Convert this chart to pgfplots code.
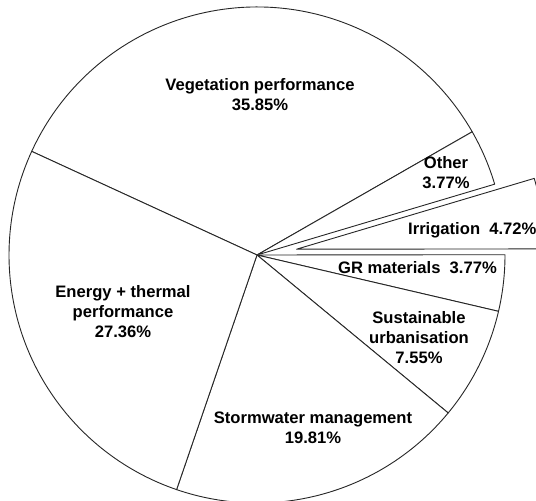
\documentclass[border=0pt]{standalone}
\usepackage{pgfplots}
\usepackage{pgfplotstable}
\pgfplotsset{compat=1.18}
\usepackage{fontspec}
\setmainfont{Liberation Sans}

% value = share in percent, explode = offset of the slice (pt)
\pgfplotstableread{
value explode
35.85 0
3.77  0
4.72  40
3.77  0
7.55  0
19.81 0
27.36 0
}\piedata

\begin{document}
\begin{tikzpicture}
\begin{axis}[
  x=1pt, y=1pt,
  xmin=0, xmax=536, ymin=0, ymax=501,
  hide axis,
  clip=true,
]
\pgfplotstablegetrowsof{\piedata}
\pgfmathtruncatemacro\N{\pgfplotsretval-1}
\pgfmathsetmacro\total{35.85+3.77+4.72+3.77+7.55+19.81+27.36}
\gdef\cur{155.3}
\pgfplotsforeachungrouped \i in {0,...,\N}{%
  \pgfplotstablegetelem{\i}{value}\of\piedata \let\v\pgfplotsretval
  \pgfplotstablegetelem{\i}{explode}\of\piedata \let\ex\pgfplotsretval
  \pgfmathsetmacro\nxt{\cur - \v*360/\total}%
  \pgfmathsetmacro\mid{(\cur+\nxt)/2}%
  \pgfmathsetmacro\cx{257+\ex*cos(\mid)}%
  \pgfmathsetmacro\cy{246+\ex*sin(\mid)}%
  \edef\temp{\noexpand\draw[fill=white, draw=black!85, line width=0.9pt, line join=round]
     (axis cs:\cx,\cy) -- ++(\cur:248pt) arc[start angle=\cur, end angle=\nxt, radius=248pt] -- cycle;}%
  \temp
  \global\let\cur\nxt
}
\begin{scope}[every node/.style={font=\fontsize{16.6}{20}\selectfont\bfseries, align=center, inner sep=0pt}]
\node at (axis cs:260,406) {Vegetation performance\\35.85\%};
\node at (axis cs:446,328) {Other\\3.77\%};
\node[anchor=west] at (axis cs:408,271) {Irrigation\ \ 4.72\%};
\node[anchor=east] at (axis cs:497,233) {GR materials\ \ 3.77\%};
\node at (axis cs:419,163) {Sustainable\\urbanisation\\7.55\%};
\node at (axis cs:313,73) {Stormwater management\\19.81\%};
\node at (axis cs:123,189) {Energy + thermal\\performance\\27.36\%};
\end{scope}
\end{axis}
\pgfresetboundingbox
\useasboundingbox (current axis.south west) rectangle (current axis.north east);
\end{tikzpicture}
\end{document}
